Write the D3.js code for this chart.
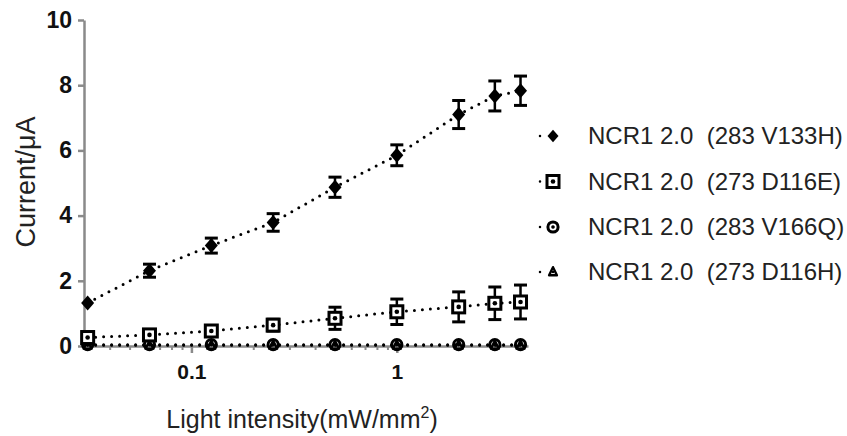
<!DOCTYPE html>
<html>
<head>
<meta charset="utf-8">
<script src="https://cdn.jsdelivr.net/npm/d3@7"></script>
<style>
  body { margin: 0; background: #fff; }
  svg { display: block; font-family: "Liberation Sans", Arial, sans-serif; }
</style>
</head>
<body>
<div id="chart"></div>
<script>
// light intensity (mW/mm2)
const intensities = [1/32, 1/16, 1/8, 1/4, 1/2, 1, 2, 3, 4];

const seriesNames = [
  "NCR1 2.0  (283 V133H)",
  "NCR1 2.0  (273 D116E)",
  "NCR1 2.0  (283 V166Q)",
  "NCR1 2.0  (273 D116H)"
];
const seriesShapes = ["diamond", "square", "circle", "triangle"];

// current (uA) and error
const v133h    = [1.32, 2.31, 3.08, 3.79, 4.87, 5.85, 7.10, 7.67, 7.83];
const v133hErr = [0.08, 0.20, 0.23, 0.27, 0.31, 0.32, 0.43, 0.46, 0.45];
const d116e    = [0.26, 0.34, 0.46, 0.64, 0.85, 1.05, 1.20, 1.31, 1.35];
const d116eErr = [0.10, 0.12, 0.15, 0.18, 0.34, 0.39, 0.46, 0.50, 0.52];
const v166q    = [0.04, 0.04, 0.04, 0.04, 0.04, 0.04, 0.04, 0.04, 0.04];
const v166qErr = [0.05, 0.05, 0.05, 0.05, 0.05, 0.05, 0.05, 0.05, 0.05];
const d116h    = [0.02, 0.02, 0.02, 0.02, 0.02, 0.02, 0.02, 0.02, 0.02];
const d116hErr = [0.03, 0.03, 0.03, 0.03, 0.03, 0.03, 0.03, 0.03, 0.03];

const yTicks = [0, 2, 4, 6, 8, 10];
const xMajor = [0.1, 1];
const xMinor = [0.04, 0.05, 0.06, 0.07, 0.08, 0.09, 0.2, 0.3, 0.4, 0.5, 0.6, 0.7, 0.8, 0.9, 2, 3, 4];

const allValues = [v133h, d116e, v166q, d116h];
const allErrors = [v133hErr, d116eErr, v166qErr, d116hErr];

const W = 847, H = 436;
const axisColor = "#8a8a8a";

let svg = d3.select("#chart").append("svg")
  .attr("width", W)
  .attr("height", H);

let x = d3.scaleLog().domain([0.03, 4.35]).range([84, 528]);
let y = d3.scaleLinear().domain([0, 10]).range([346, 20]);

// y axis
let gy = svg.append("g")
  .attr("transform", "translate(" + x.range()[0] + ",0)")
  .call(d3.axisLeft(y).tickValues(yTicks).tickSize(6).tickSizeOuter(0).tickPadding(6).tickFormat(d3.format("d")));
gy.select(".domain").attr("stroke", axisColor).attr("stroke-width", 2.5);
gy.selectAll(".tick line").attr("stroke", axisColor).attr("stroke-width", 2.5);
gy.selectAll(".tick text")
  .attr("fill", "#111")
  .style("font-size", "23px")
  .style("font-weight", "bold");

// x axis - minor ticks
let gxMinor = svg.append("g")
  .attr("transform", "translate(0," + y(0) + ")")
  .call(d3.axisBottom(x).tickValues(xMinor).tickSize(4).tickSizeOuter(0).tickFormat(""));
gxMinor.select(".domain").attr("stroke", axisColor).attr("stroke-width", 2.5);
gxMinor.selectAll(".tick line").attr("stroke", axisColor).attr("stroke-width", 2);

// x axis - major ticks
let gx = svg.append("g")
  .attr("transform", "translate(0," + y(0) + ")")
  .call(d3.axisBottom(x).tickValues(xMajor).tickSize(7).tickSizeOuter(0).tickPadding(11).tickFormat(d3.format("")));
gx.select(".domain").remove();
gx.selectAll(".tick line").attr("stroke", axisColor).attr("stroke-width", 2.5);
gx.selectAll(".tick text")
  .attr("fill", "#111")
  .style("font-size", "21px")
  .style("font-weight", "bold");

// axis titles
svg.append("text")
  .attr("transform", "translate(35,182) rotate(-90)")
  .attr("text-anchor", "middle")
  .attr("fill", "#222")
  .style("font-size", "27px")
  .text("Current/μA");

let xt = svg.append("text")
  .attr("x", 302)
  .attr("y", 428)
  .attr("text-anchor", "middle")
  .attr("fill", "#222")
  .style("font-size", "25px");
xt.append("tspan").text("Light intensity(mW/mm");
xt.append("tspan").attr("dy", -10).style("font-size", "16px").text("2");
xt.append("tspan").attr("dy", 10).text(")");

// marker drawing
function drawMarker(g, shape, cx, cy, s) {
  if (shape === "diamond") {
    g.append("path")
      .attr("d", "M" + cx + "," + (cy - s * 1.15) + "L" + (cx + s) + "," + cy +
                 "L" + cx + "," + (cy + s * 1.15) + "L" + (cx - s) + "," + cy + "Z")
      .attr("fill", "#000");
  } else if (shape === "square") {
    g.append("rect")
      .attr("x", cx - s).attr("y", cy - s)
      .attr("width", 2 * s).attr("height", 2 * s)
      .attr("fill", "#fff").attr("stroke", "#000").attr("stroke-width", 3);
    g.append("circle").attr("cx", cx).attr("cy", cy).attr("r", 2.3).attr("fill", "#000");
  } else if (shape === "circle") {
    g.append("circle").attr("cx", cx).attr("cy", cy).attr("r", s * 0.85)
      .attr("fill", "none").attr("stroke", "#000").attr("stroke-width", 3);
    g.append("circle").attr("cx", cx).attr("cy", cy).attr("r", 1.8).attr("fill", "#000");
  } else {
    g.append("path")
      .attr("d", "M" + cx + "," + (cy - s * 0.8) + "L" + (cx + s * 0.65) + "," + (cy + s * 0.55) +
                 "L" + (cx - s * 0.65) + "," + (cy + s * 0.55) + "Z")
      .attr("fill", "none").attr("stroke", "#000").attr("stroke-width", 2.4)
      .attr("stroke-linejoin", "round");
  }
}

let line = d3.line()
  .x(function(d) { return x(d.x); })
  .y(function(d) { return y(d.y); });

let plot = svg.append("g").attr("id", "series");

// draw in reverse so the top series stays on top
for (let k = allValues.length - 1; k >= 0; k--) {
  let pts = intensities.map(function(v, i) {
    return { x: v, y: allValues[k][i], e: allErrors[k][i] };
  });
  let g = plot.append("g");
  let size = seriesShapes[k] === "diamond" ? 6.5 : 6;

  g.append("path")
    .attr("d", line(pts))
    .attr("fill", "none")
    .attr("stroke", "#000")
    .attr("stroke-width", 3)
    .attr("stroke-linecap", "round")
    .attr("stroke-dasharray", "0,8");

  // error bars (skip the tiny ones that vanish under the symbol)
  pts.forEach(function(p) {
    let cx = x(p.x);
    let y1 = y(p.y + p.e), y2 = y(p.y - p.e);
    if ((y2 - y1) / 2 < 3) return;
    g.append("line").attr("x1", cx).attr("x2", cx).attr("y1", y1).attr("y2", y2)
      .attr("stroke", "#000").attr("stroke-width", 2.5);
    [y1, y2].forEach(function(yy) {
      g.append("line").attr("x1", cx - 6.5).attr("x2", cx + 6.5).attr("y1", yy).attr("y2", yy)
        .attr("stroke", "#000").attr("stroke-width", 3);
    });
  });

  pts.forEach(function(p) {
    drawMarker(g, seriesShapes[k], x(p.x), y(p.y), size);
  });
}

// legend
let legendRows = [136, 181.5, 227, 272];
let legend = svg.append("g").attr("id", "legend");
seriesNames.forEach(function(name, k) {
  let ly = legendRows[k];
  let row = legend.append("g");
  row.append("line")
    .attr("x1", 540).attr("x2", 566).attr("y1", ly).attr("y2", ly)
    .attr("stroke", "#000").attr("stroke-width", 2.5)
    .attr("stroke-linecap", "round").attr("stroke-dasharray", "0,13");
  drawMarker(row, seriesShapes[k], 553, ly, seriesShapes[k] === "diamond" ? 5.5 : 6);
  row.append("text")
    .attr("x", 588)
    .attr("y", ly)
    .attr("dy", "0.35em")
    .attr("fill", "#222")
    .style("font-size", "24px")
    .style("white-space", "pre")
    .text(name);
});
</script>
</body>
</html>
